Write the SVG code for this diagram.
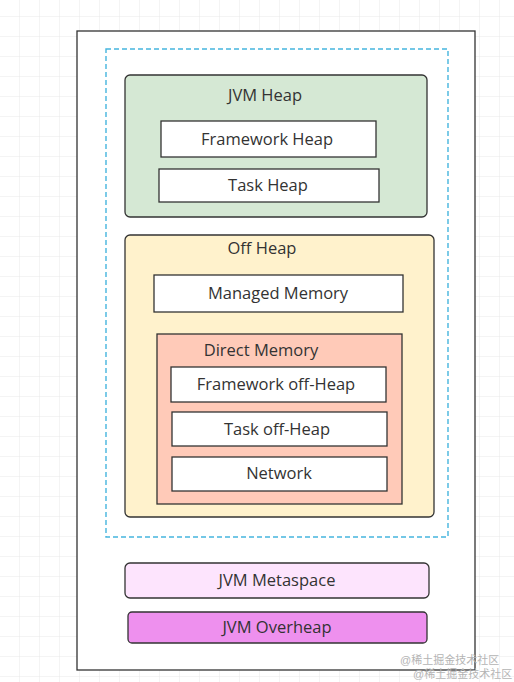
<svg xmlns="http://www.w3.org/2000/svg" width="514" height="682" viewBox="0 0 514 682">
<defs>
<pattern id="grid" width="20" height="20" patternUnits="userSpaceOnUse" x="0" y="-3">
<path d="M20 0V20M0 20H20" fill="none" stroke="#e9e9e9" stroke-width="1"/>
</pattern>
</defs>
<style>
.box{stroke:#333;stroke-width:1.3}
.w{fill:#fff}
.t{font-family:"Open Sans","Noto Sans","Liberation Sans",sans-serif;font-size:16.5px;fill:#333;text-anchor:middle;dominant-baseline:central}
.wm{font-family:"Liberation Sans","Noto Sans CJK SC",sans-serif;font-size:11px;fill:#b4b4b4}
</style>
<rect width="514" height="682" fill="#fff"/>
<rect width="514" height="682" fill="url(#grid)"/>
<g id="outer"><rect x="77" y="31" width="398" height="639" fill="#fff" stroke="#333" stroke-width="1.3"/></g>
<g id="heapGroup"><rect x="106" y="49" width="342" height="488" fill="none" stroke="#45b5de" stroke-width="1.4" stroke-dasharray="5,3"/></g>
<g id="jvmHeap"><rect class="box" x="125" y="75" width="302" height="142" rx="5" fill="#d5e8d4"/><text class="t" x="265" y="94">JVM Heap</text></g>
<g id="frameworkHeap"><rect class="box w" x="161" y="121" width="215" height="36"/><text class="t" x="267" y="138">Framework Heap</text></g>
<g id="taskHeap"><rect class="box w" x="159" y="169" width="220" height="33"/><text class="t" x="268" y="184">Task Heap</text></g>
<g id="offHeap"><rect class="box" x="125" y="235" width="309" height="282" rx="5" fill="#fff2cc"/><text class="t" x="262" y="247">Off Heap</text></g>
<g id="managedMemory"><rect class="box w" x="154" y="275" width="249" height="37"/><text class="t" x="278" y="292">Managed Memory</text></g>
<g id="directMemory"><rect class="box" x="157" y="334" width="245" height="170" fill="#ffcab8"/><text class="t" x="261" y="349">Direct Memory</text></g>
<g id="frameworkOffHeap"><rect class="box w" x="171" y="367" width="215" height="35"/><text class="t" x="276" y="383">Framework off-Heap</text></g>
<g id="taskOffHeap"><rect class="box w" x="172" y="412" width="215" height="34"/><text class="t" x="277" y="428">Task off-Heap</text></g>
<g id="network"><rect class="box w" x="172" y="457" width="215" height="34"/><text class="t" x="279" y="472">Network</text></g>
<g id="metaspace"><rect class="box" x="125" y="563" width="304" height="35" rx="5" fill="#fde4fd"/><text class="t" x="277" y="579">JVM Metaspace</text></g>
<g id="overheap"><rect class="box" x="128" y="612" width="299" height="31" rx="4" fill="#ee90ee"/><text class="t" x="277" y="626">JVM Overheap</text></g>
<g id="connectors"></g>
<text class="wm" x="400" y="664">@稀土掘金技术社区</text>
<text class="wm" x="413" y="678">@稀土掘金技术社区</text>
</svg>
